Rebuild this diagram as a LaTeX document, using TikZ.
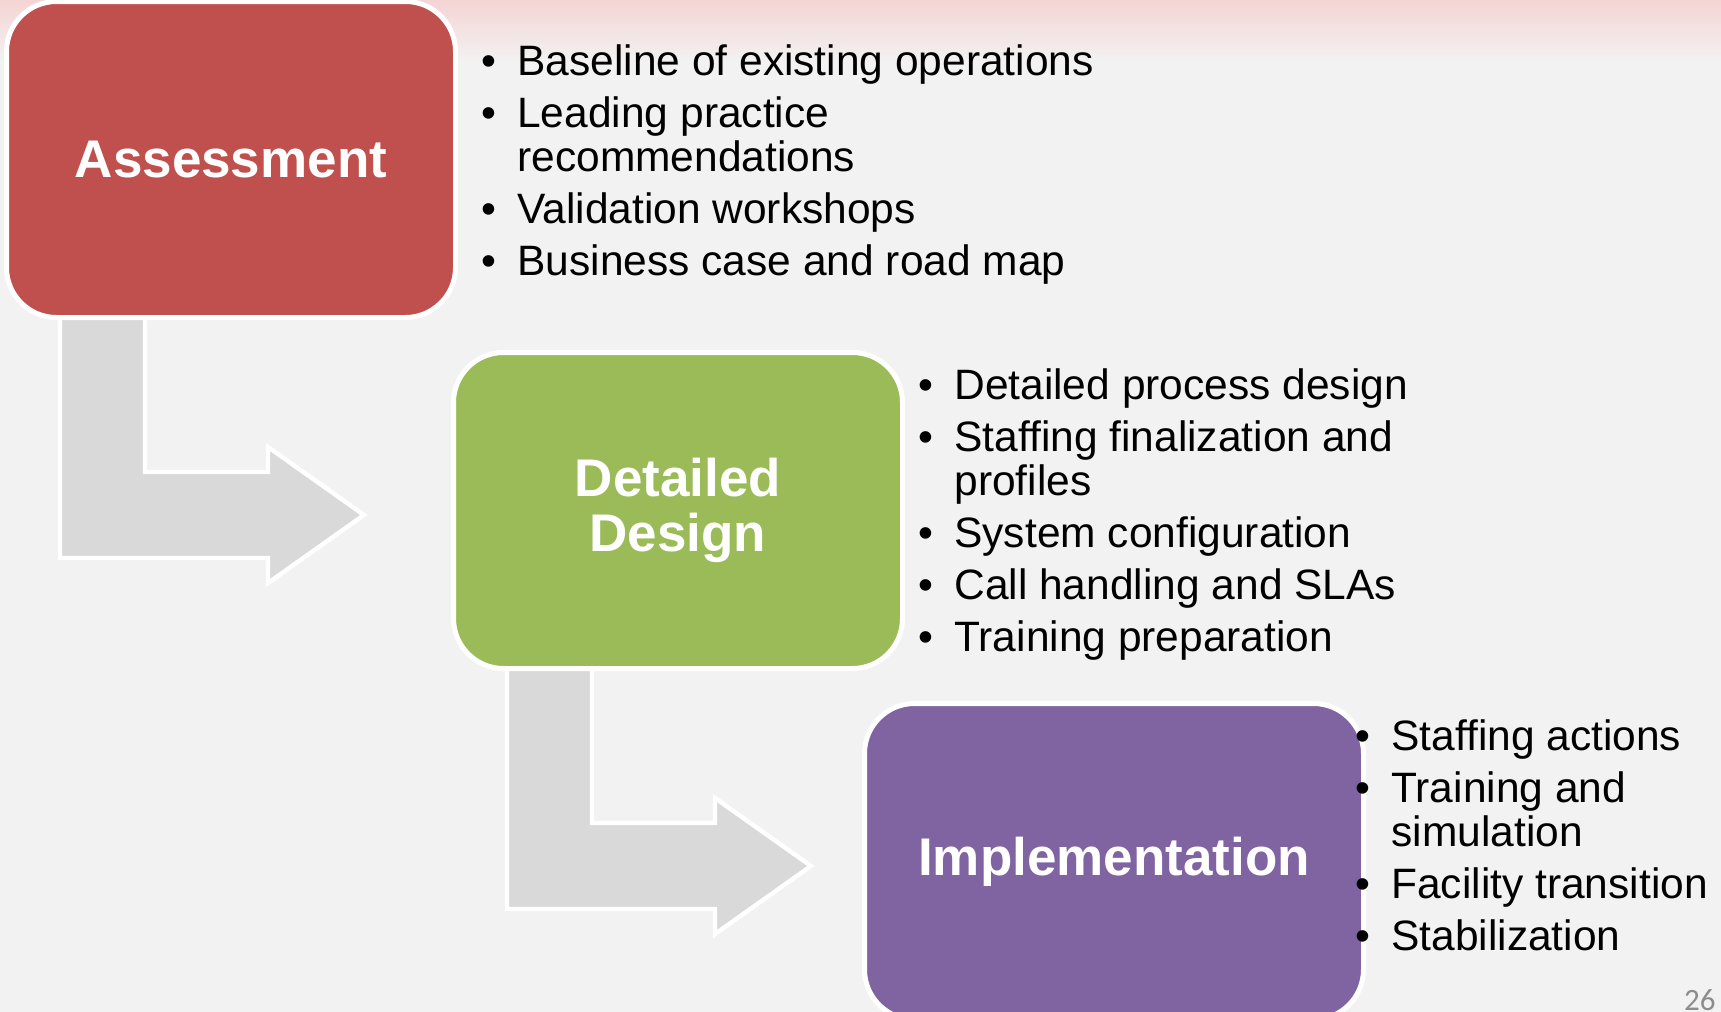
\documentclass[tikz,border=0pt]{standalone}
\usepackage{fontspec}
\setmainfont{Liberation Sans}
\newfontfamily\pagenumfont{Carlito}
\usetikzlibrary{calc, backgrounds}

\definecolor{slidebg}{RGB}{242, 242, 242}
\definecolor{bandpink}{RGB}{245, 212, 212}
\definecolor{assessred}{RGB}{192, 80, 77}
\definecolor{designgreen}{RGB}{155, 187, 89}
\definecolor{implpurple}{RGB}{128, 100, 162}
\definecolor{arrowgray}{RGB}{217, 217, 217}
\definecolor{pagegray}{RGB}{140, 140, 140}

\newcommand{\bul}{\makebox[18pt][l]{\textbullet}}
\newcommand{\cont}{\hspace*{18pt}}

\begin{document}
\begin{tikzpicture}[x=0.5pt, y=-0.5pt,
  phasebox/.style={draw=white, line width=2.5pt, rounded corners=25pt, minimum width=224.5pt, minimum height=158pt, text=white, align=center, font=\fontsize{26.5}{27.5}\selectfont\bfseries},
  pointlist/.style={anchor=north west, inner sep=0pt, align=left, font=\fontsize{21.25}{22}\selectfont},
  bentarrow/.style={draw=white, line width=2.2pt, fill=arrowgray}]
  \useasboundingbox (0,0) rectangle (1721,1012);

  % Phases
  \node[phasebox, fill=assessred] (assess) at (231,159.5) {Assessment};
  \node[phasebox, fill=designgreen] (design) at (678,510.5) {Detailed\\Design};
  \node[phasebox, fill=implpurple, minimum width=249.5pt] (implement) at (1114,861.5) {Implementation};

  % Assessment points
  \node[pointlist] (assesslist) at (481,44) {\strut\bul Baseline of existing operations\\[4pt]
    \bul Leading practice\\
    \cont recommendations\\[4pt]
    \bul Validation workshops\\[4pt]
    \bul Business case and road map};

  % Detailed design points
  \node[pointlist] (designlist) at (918,368) {\strut\bul Detailed process design\\[4pt]
    \bul Staffing finalization and\\
    \cont profiles\\[4pt]
    \bul System configuration\\[4pt]
    \bul Call handling and SLAs\\[4pt]
    \bul Training preparation};

  % Implementation points
  \node[pointlist] (implementlist) at (1355,719) {\strut\bul Staffing actions\\[4pt]
    \bul Training and\\
    \cont simulation\\[4pt]
    \bul Facility transition\\[4pt]
    \bul Stabilization};

  % Page number
  \node[anchor=base east, inner sep=0pt, text=pagegray, font=\pagenumfont\fontsize{15.5}{16}\selectfont] (pagenum) at (1716,1010) {26};

  \begin{scope}[on background layer]
    % Slide background
    \fill[slidebg] (0,0) rectangle (1721,1012);
    \shade[top color=bandpink, bottom color=slidebg] (0,0) rectangle (1721,62);

    % Bent arrows
    \draw[bentarrow] ($(assess.south west)+(56,-4)$) -- ++(85,0) -- ++(0,156) -- ++(123,0) -- ++(0,-25) -- ++(96,68) -- ++(-96,68) -- ++(0,-25) -- ++(-208,0) -- cycle;
    \draw[bentarrow] ($(design.south west)+(56,-4)$) -- ++(85,0) -- ++(0,156) -- ++(123,0) -- ++(0,-25) -- ++(96,68) -- ++(-96,68) -- ++(0,-25) -- ++(-208,0) -- cycle;
  \end{scope}
\end{tikzpicture}
\end{document}
